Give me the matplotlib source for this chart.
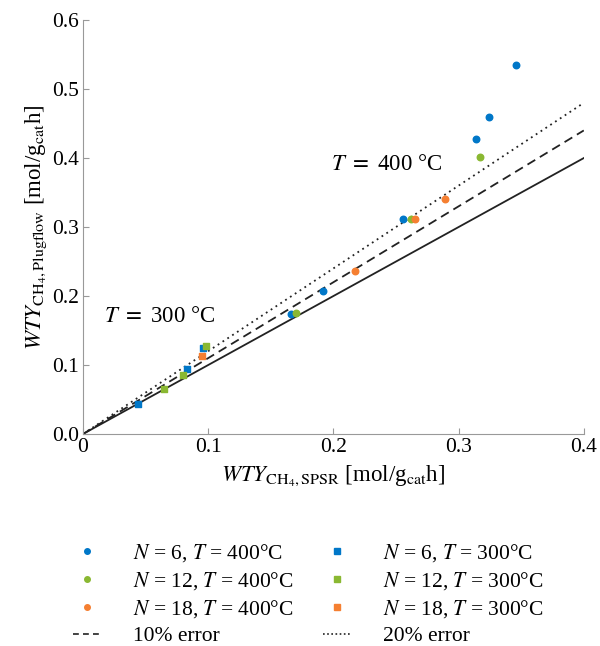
import matplotlib
matplotlib.use('Agg')
import matplotlib.pyplot as plt
from matplotlib.lines import Line2D

plt.rcParams['font.family'] = 'serif'
plt.rcParams['font.serif'] = ['Liberation Serif', 'DejaVu Serif']
plt.rcParams['mathtext.fontset'] = 'stix'

# T = 400 C (circles): x = WTY SPSR, y = WTY plugflow
x_n6_400 = [0.166, 0.192, 0.256, 0.314, 0.324, 0.346]
y_n6_400 = [0.174, 0.207, 0.312, 0.428, 0.459, 0.535]
x_n12_400 = [0.170, 0.262, 0.317]
y_n12_400 = [0.176, 0.311, 0.401]
x_n18_400 = [0.217, 0.265, 0.289]
y_n18_400 = [0.236, 0.311, 0.341]

# T = 300 C (squares)
x_n6_300 = [0.044, 0.083, 0.096]
y_n6_300 = [0.044, 0.094, 0.125]
x_n12_300 = [0.065, 0.080, 0.098]
y_n12_300 = [0.065, 0.086, 0.128]
x_n18_300 = [0.095]
y_n18_300 = [0.113]

line_x = [0, 0.4]
error_factors = [1.0, 1.1, 1.2]

blue = '#0077C8'
green = '#8AB832'
orange = '#F57F31'

fig = plt.figure(figsize=(6, 6.46), dpi=100)
ax = fig.add_axes([0.138, 0.328, 0.835, 0.641])

# parity line and error lines
ax.plot(line_x, [v * error_factors[0] for v in line_x], color='#222222', lw=1.3)
ax.plot(line_x, [v * error_factors[1] for v in line_x], color='#222222', lw=1.3, ls=(0, (5, 3)))
ax.plot(line_x, [v * error_factors[2] for v in line_x], color='#222222', lw=1.3, ls=(0, (1, 2.2)))

ms = 22
ax.scatter(x_n6_400, y_n6_400, s=ms, color=blue, marker='o', zorder=3)
ax.scatter(x_n12_400, y_n12_400, s=ms, color=green, marker='o', zorder=3)
ax.scatter(x_n18_400, y_n18_400, s=ms, color=orange, marker='o', zorder=3)
ax.scatter(x_n6_300, y_n6_300, s=ms, color=blue, marker='s', zorder=3)
ax.scatter(x_n12_300, y_n12_300, s=ms, color=green, marker='s', zorder=3)
ax.scatter(x_n18_300, y_n18_300, s=ms, color=orange, marker='s', zorder=3)

ax.text(0.017, 0.162, r'$T$ $=$ 300 °C', fontsize=16.5)
ax.text(0.198, 0.383, r'$T$ $=$ 400 °C', fontsize=16.5)

ax.set_xlim(0, 0.4)
ax.set_ylim(0, 0.6)
ax.set_xticks([0, 0.1, 0.2, 0.3, 0.4])
ax.set_xticklabels(['0', '0.1', '0.2', '0.3', '0.4'])
ax.set_yticks([0, 0.1, 0.2, 0.3, 0.4, 0.5, 0.6])
ax.set_yticklabels(['0.0', '0.1', '0.2', '0.3', '0.4', '0.5', '0.6'])
ax.tick_params(direction='in', length=4, color='#999999', labelsize=15.5, pad=3)
for s in ['top', 'right']:
    ax.spines[s].set_visible(False)
for s in ['left', 'bottom']:
    ax.spines[s].set_color('#999999')

ax.set_xlabel(r'$WTY_{\mathrm{CH_4,SPSR}}$ [mol/g$_{\mathrm{cat}}$h]', fontsize=16.5, labelpad=4)
ax.set_ylabel(r'$WTY_{\mathrm{CH_4,Plugflow}}$ [mol/g$_{\mathrm{cat}}$h]', fontsize=16.5, labelpad=2)

handles = [
    Line2D([], [], ls='none', marker='o', ms=4, color=blue),
    Line2D([], [], ls='none', marker='o', ms=4, color=green),
    Line2D([], [], ls='none', marker='o', ms=4, color=orange),
    Line2D([], [], color='#222222', lw=1.2, ls=(0, (3.5, 2.5))),
    Line2D([], [], ls='none', marker='s', ms=4, color=blue),
    Line2D([], [], ls='none', marker='s', ms=4, color=green),
    Line2D([], [], ls='none', marker='s', ms=4, color=orange),
    Line2D([], [], color='#222222', lw=1.2, ls=(0, (1, 1.5))),
]
labels = [
    r'$N$ = 6, $T$ = 400°C', r'$N$ = 12, $T$ = 400°C', r'$N$ = 18, $T$ = 400°C', '10% error',
    r'$N$ = 6, $T$ = 300°C', r'$N$ = 12, $T$ = 300°C', r'$N$ = 18, $T$ = 300°C', '20% error',
]
fig.legend(handles, labels, ncol=2, loc='lower left', bbox_to_anchor=(0.108, -0.014),
           frameon=False, fontsize=15.5, handlelength=1.25, handletextpad=1.5,
           columnspacing=1.4, labelspacing=0.28, borderaxespad=0)

plt.savefig('out.png', dpi=100)
